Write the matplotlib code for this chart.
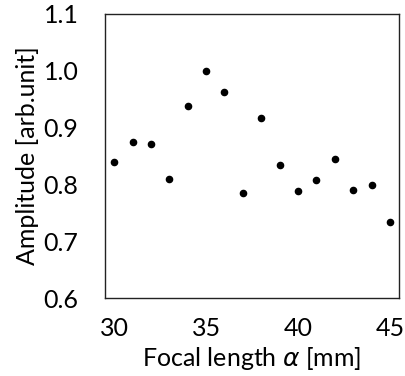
import matplotlib
matplotlib.use("Agg")
import matplotlib.pyplot as plt

# Focal length vs amplitude
focal_length = [30, 31, 32, 33, 34, 35, 36, 37, 38, 39, 40, 41, 42, 43, 44, 45]
amplitude = [0.839, 0.875, 0.872, 0.810, 0.938, 1.000, 0.963, 0.784,
             0.917, 0.835, 0.789, 0.807, 0.844, 0.791, 0.799, 0.734]
x_ticks = [30, 35, 40, 45]
y_ticks = [0.6, 0.7, 0.8, 0.9, 1.0, 1.1]

plt.rcParams["font.family"] = ["Lato", "DejaVu Sans"]

fig = plt.figure(figsize=(4.06, 3.76), dpi=100)
ax = fig.add_axes([0.2586, 0.2074, 0.7244, 0.7554])

ax.scatter(focal_length, amplitude, s=20, color="black", zorder=3)

ax.set_xlim(29.5, 45.5)
ax.set_ylim(0.6, 1.1)
ax.set_xticks(x_ticks)
ax.set_yticks(y_ticks)
ax.set_yticklabels([f"{v:.1f}" for v in y_ticks])
ax.tick_params(axis="x", length=0, pad=14, labelsize=18)
ax.tick_params(axis="y", length=0, pad=19, labelsize=18)

for side in ax.spines.values():
    side.set_linewidth(1.0)
    side.set_color("#222222")

ax.set_xlabel("Focal length $\\alpha$ [mm]", fontsize=18, labelpad=3)
ax.set_ylabel("Amplitude [arb.unit]", fontsize=18, labelpad=3)

fig.savefig("out.png", dpi=100)
